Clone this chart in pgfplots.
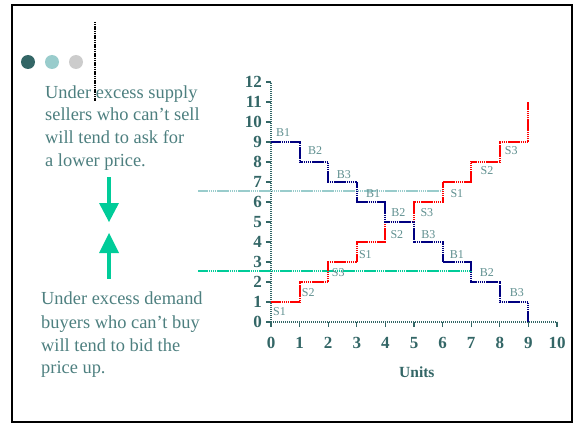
\documentclass[border=0pt]{standalone}
\usepackage{fontspec}
\setmainfont{Liberation Serif}
\usepackage{pgfplots}
\pgfplotsset{compat=1.18}

\definecolor{tealdark}{HTML}{336666}
\definecolor{tealtext}{HTML}{4D7F7F}
\definecolor{teallbl}{HTML}{5F8F8F}
\definecolor{teallight}{HTML}{99CCCC}
\definecolor{dotgray}{HTML}{CCCCCC}
\definecolor{eqgreen}{HTML}{00CC99}
\definecolor{buyer}{HTML}{000080}
\definecolor{seller}{HTML}{FF0000}

% buyers' demand steps and sellers' supply steps
\pgfplotstableread{
x y
0 9
1 8
2 7
3 6
4 5
5 4
6 3
7 2
8 1
9 0
}\demand
\pgfplotstableread{
x y
0 1
1 2
2 3
3 4
4 5
5 6
6 7
7 8
8 9
9 11
}\supply

\tikzset{stepline/.style={line width=2pt, dash pattern=on 1.6pt off 0.5pt}}

\begin{document}
\begin{tikzpicture}
\useasboundingbox (0pt,0pt) rectangle (579pt,424pt);
\draw[line width=2.5pt] (12pt,2pt) rectangle (572pt,419pt);

% bullets and the rule
\fill[tealdark] (28pt,362pt) circle (7pt);
\fill[teallight] (52pt,362pt) circle (7pt);
\fill[dotgray] (76pt,362pt) circle (7pt);
\draw[black, line width=1.3pt, dash pattern=on 1.2pt off 0.6pt] (95pt,402pt) -- (95pt,323pt);

% side text
\begin{scope}[every node/.style={anchor=base west, inner sep=0pt, text=tealtext,
    font=\fontsize{18.4}{20}\selectfont}]
\node at (45pt,325pt) {Under excess supply};
\node at (45pt,303pt) {sellers who can’t sell};
\node at (45pt,280pt) {will tend to ask for};
\node at (45pt,258pt) {a lower price.};
\node at (41pt,120pt) {Under excess demand};
\node at (41pt,96pt) {buyers who can’t buy};
\node at (41pt,73pt) {will tend to bid the};
\node at (41pt,51pt) {price up.};
\end{scope}

% arrows
\fill[eqgreen] (107pt,247pt) rectangle (111pt,220pt);
\fill[eqgreen] (99pt,221pt) -- (119pt,221pt) -- (109pt,202pt) -- cycle;
\fill[eqgreen] (99pt,171pt) -- (119pt,171pt) -- (109pt,191pt) -- cycle;
\fill[eqgreen] (107pt,172pt) rectangle (111pt,145pt);

\begin{axis}[
  at={(271pt,102pt)}, anchor=south west,
  scale only axis, width=286pt, height=240pt,
  xmin=0, xmax=10, ymin=0, ymax=12,
  axis lines=left,
  axis line style={-, tealdark, line width=2pt, dash pattern=on 1.4pt off 0.6pt},
  xtick={0,...,10}, ytick={0,...,12},
  tick align=outside, major tick length=5pt,
  tick style={tealdark, line width=1.3pt, solid},
  ticklabel style={font=\fontsize{17}{17}\selectfont\bfseries, text=tealdark},
  xticklabel style={yshift=-7pt},
  yticklabel style={xshift=-0.5pt},
  /pgf/number format/assume math mode=true,
  xlabel={Units},
  xlabel style={font=\fontsize{15.5}{15.5}\selectfont\bfseries, text=tealdark,
    at={(axis description cs:0.51,-0.208)}, anchor=center},
  clip=false,
]
\addplot[color=teallight, stepline] coordinates {(-2.55,6.55) (6,6.55)};
\addplot[color=eqgreen, stepline] coordinates {(-2.55,2.55) (7,2.55)};
\addplot[const plot, color=seller, stepline] table {\supply};
\addplot[const plot, color=buyer, stepline] table {\demand};

\begin{scope}[every node/.style={text=teallbl, inner sep=0pt,
    font=\fontsize{12}{12}\selectfont}]
\node at (axis cs:0.42,9.45) {B1};
\node at (axis cs:1.54,8.55) {B2};
\node at (axis cs:2.55,7.35) {B3};
\node at (axis cs:3.57,6.4) {B1};
\node at (axis cs:4.45,5.45) {B2};
\node at (axis cs:5.5,4.35) {B3};
\node at (axis cs:6.5,3.35) {B1};
\node at (axis cs:7.55,2.45) {B2};
\node at (axis cs:8.6,1.45) {B3};
\node at (axis cs:0.3,0.5) {S1};
\node at (axis cs:1.3,1.45) {S2};
\node at (axis cs:2.35,2.45) {S3};
\node at (axis cs:3.3,3.35) {S1};
\node at (axis cs:4.4,4.35) {S2};
\node at (axis cs:5.45,5.45) {S3};
\node at (axis cs:6.5,6.4) {S1};
\node at (axis cs:7.55,7.55) {S2};
\node at (axis cs:8.4,8.55) {S3};
\end{scope}
\end{axis}
\end{tikzpicture}
\end{document}
